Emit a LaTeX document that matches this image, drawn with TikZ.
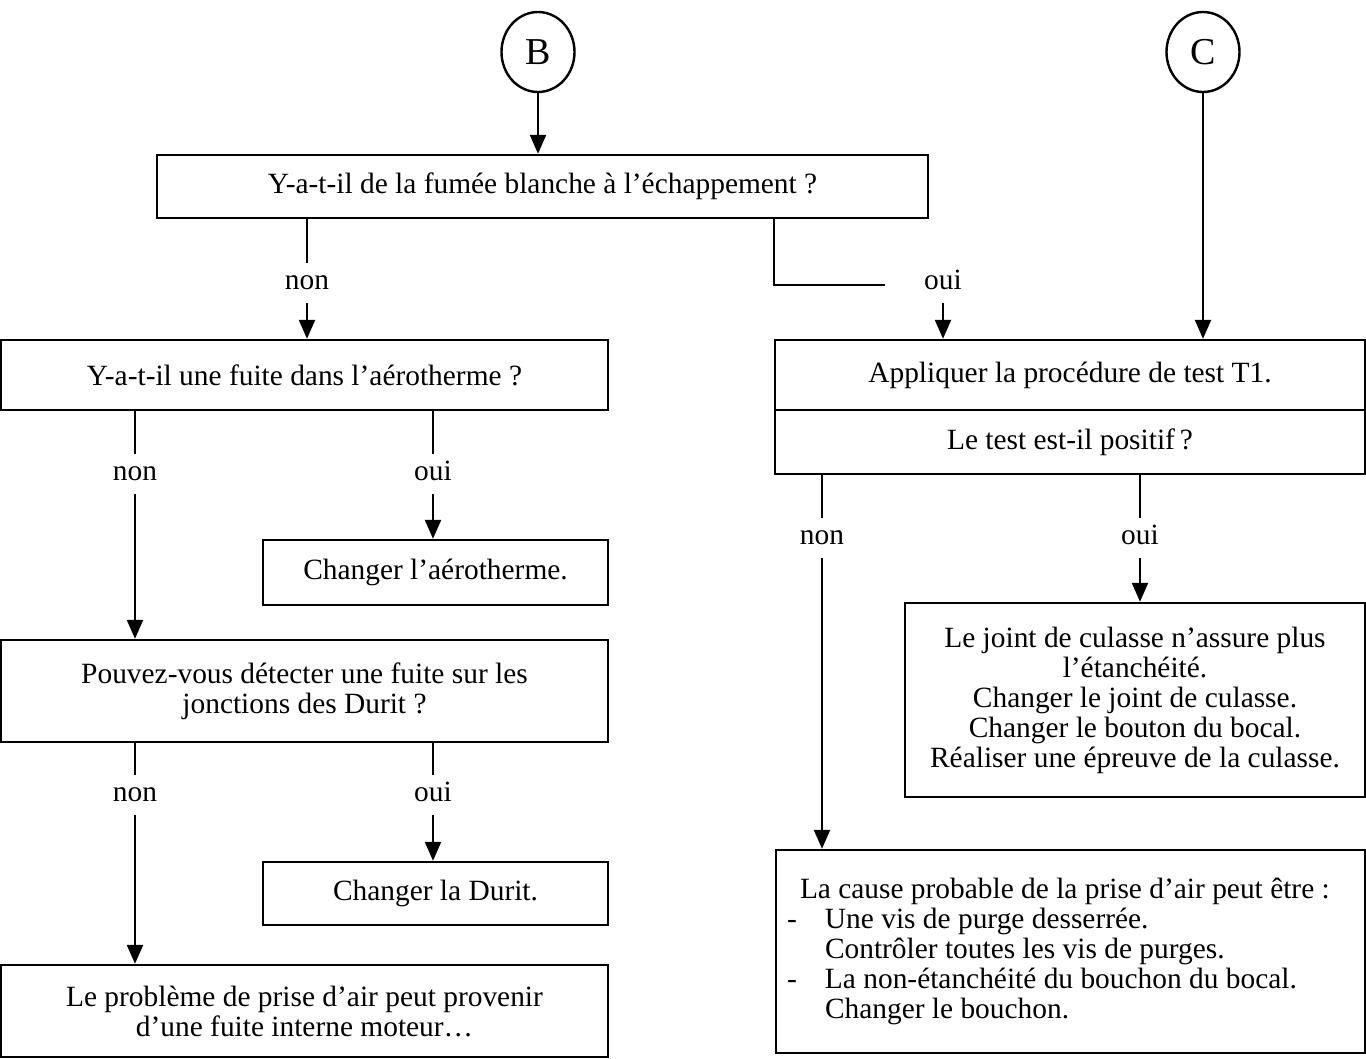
\documentclass[tikz,border=0pt]{standalone}
\usepackage{fontspec}
\setmainfont{Liberation Serif}
\usetikzlibrary{arrows.meta,shapes.geometric}
\begin{document}
\begin{tikzpicture}[x=0.5pt,y=-0.5pt,
  every node/.style={font=\fontsize{14.7}{15}\selectfont},
  box/.style={draw,line width=1.2pt,inner sep=0pt,align=center},
  lab/.style={inner sep=0pt,minimum height=20pt,text height=6.7pt,text depth=0pt},
  conn/.style={line width=1.2pt},
  arr/.style={line width=1.2pt,-{Triangle[length=9.5pt,width=8pt]}},
  bubble/.style={draw,ellipse,line width=1.2pt,minimum width=36.5pt,minimum height=40pt,inner sep=0pt,font=\fontsize{19}{21}\selectfont}]
\useasboundingbox (0,0) rectangle (1366,1059);
% circles
\node[bubble] (B) at (538,52) {B};
\node[bubble] (C) at (1203,52) {C};
% boxes
\node[box,minimum width=385.5pt,minimum height=31.5pt] (q1) at (542.5,186.5) {Y-a-t-il de la fumée blanche à l’échappement ?};
\node[box,minimum width=303.5pt,minimum height=35pt] (q2) at (304.5,375) {Y-a-t-il une fuite dans l’aérotherme ?};
\node[box,minimum width=295pt,minimum height=35pt] (t1) at (1070,375) {Appliquer la procédure de test T1.};
\node[box,minimum width=295pt,minimum height=32pt] (t2) at (1070,442) {Le test est-il positif\,?};
\node[box,minimum width=172.5pt,minimum height=32.5pt] (r1) at (435.5,572.5) {Changer l’aérotherme.};
\node[box,minimum width=303.5pt,minimum height=51pt] (q3) at (304.5,691) {Pouvez-vous détecter une fuite sur les\\jonctions des Durit ?};
\node[box,minimum width=172.5pt,minimum height=31.5pt] (r2) at (435.5,893.5) {Changer la Durit.};
\node[box,minimum width=303.5pt,minimum height=46pt] (r3) at (304.5,1011) {Le problème de prise d’air peut provenir\\d’une fuite interne moteur…};
\node[box,minimum width=230pt,minimum height=97pt] (r4) at (1135,700) {Le joint de culasse n’assure plus\\l’étanchéité.\\Changer le joint de culasse.\\Changer le bouton du bocal.\\Réaliser une épreuve de la culasse.};
\node[box,align=flush left,minimum width=294.5pt,minimum height=101.5pt,inner xsep=5.5pt,text width=283.5pt] (r5) at (1070.5,951.5) {\hspace*{6.5pt}La cause probable de la prise d’air peut être :\\\makebox[19pt][l]{-}Une vis de purge desserrée.\\\hspace*{19pt}Contrôler toutes les vis de purges.\\\makebox[19pt][l]{-}La non-étanchéité du bouchon du bocal.\\\hspace*{19pt}Changer le bouchon.};
% labels
\node[lab] (n1) at (307,283) {non};
\node[lab] (o1) at (943,283) {oui};
\node[lab] (n2) at (135,474) {non};
\node[lab] (o2) at (433,474) {oui};
\node[lab] (n3) at (135,795) {non};
\node[lab] (o3) at (433,795) {oui};
\node[lab] (n4) at (822,538) {non};
\node[lab] (o4) at (1140,538) {oui};
\coordinate (o1end) at (885,285);
% connectors
\draw[arr] (B.south) -- (B.south |- q1.north);
\draw[arr] (C.south) -- (C.south |- t1.north);
\draw[conn] (q1.south -| n1) -- (n1.north);
\draw[arr] (n1.south) -- (n1.south |- q2.north);
\draw[conn] (q1.south -| t1.west) |- (o1end);
\draw[arr] (o1.south) -- (o1.south |- t1.north);
\draw[conn] (q2.south -| n2) -- (n2.north);
\draw[arr] (n2.south) -- (n2.south |- q3.north);
\draw[conn] (q2.south -| o2) -- (o2.north);
\draw[arr] (o2.south) -- (o2.south |- r1.north);
\draw[conn] (q3.south -| n3) -- (n3.north);
\draw[arr] (n3.south) -- (n3.south |- r3.north);
\draw[conn] (q3.south -| o3) -- (o3.north);
\draw[arr] (o3.south) -- (o3.south |- r2.north);
\draw[conn] (t2.south -| n4) -- (n4.north);
\draw[arr] (n4.south) -- (n4.south |- r5.north);
\draw[conn] (t2.south -| o4) -- (o4.north);
\draw[arr] (o4.south) -- (o4.south |- r4.north);
\end{tikzpicture}
\end{document}
